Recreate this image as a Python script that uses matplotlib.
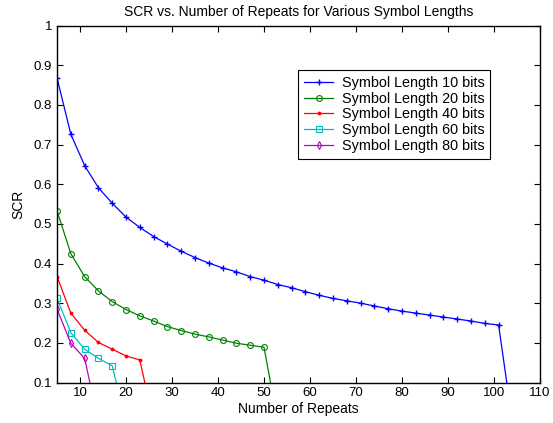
import matplotlib
matplotlib.use("Agg")
import matplotlib.pyplot as plt
import numpy as np

# SCR; each series ends with a 0 that drops below the axis
repeats_10 = list(range(5, 105, 3))
scr_10 = [0.868, 0.726, 0.647, 0.591, 0.552, 0.517, 0.491, 0.468, 0.449,
          0.431, 0.415, 0.401, 0.389, 0.379, 0.367, 0.358, 0.347, 0.339,
          0.329, 0.320, 0.312, 0.306, 0.300, 0.293, 0.286, 0.280, 0.275,
          0.270, 0.265, 0.260, 0.255, 0.249, 0.245, 0.0]

repeats_20 = list(range(5, 54, 3))
scr_20 = [0.533, 0.425, 0.367, 0.331, 0.304, 0.284, 0.268, 0.255, 0.241,
          0.231, 0.222, 0.215, 0.207, 0.199, 0.194, 0.189, 0.0]

repeats_40 = list(range(5, 27, 3))
scr_40 = [0.367, 0.275, 0.232, 0.201, 0.184, 0.167, 0.157, 0.0]

repeats_60 = list(range(5, 21, 3))
scr_60 = [0.312, 0.226, 0.184, 0.161, 0.142, 0.0]

repeats_80 = list(range(5, 15, 3))
scr_80 = [0.285, 0.199, 0.161, 0.0]

labels = ["Symbol Length 10 bits", "Symbol Length 20 bits",
          "Symbol Length 40 bits", "Symbol Length 60 bits",
          "Symbol Length 80 bits"]

plt.rcParams.update({
    "font.family": ["Liberation Sans", "DejaVu Sans"],
    "xtick.direction": "in", "ytick.direction": "in",
    "xtick.top": True, "ytick.right": True,
})

fig = plt.figure(figsize=(5.53, 4.23), dpi=100)
ax = fig.add_axes([0.1031, 0.0957, 0.8734, 0.844])

styles = [
    dict(color="#0000ff", marker="+", ms=5, mew=1.0),
    dict(color="#008000", marker="o", ms=4.2, mfc="none", mew=0.8),
    dict(color="#ff0000", marker=".", ms=3.5),
    dict(color="#00bfbf", marker="s", ms=3.8, mfc="none", mew=0.8),
    dict(color="#bf00bf", marker="d", ms=4, mfc="none", mew=0.8),
]
series = [(repeats_10, scr_10), (repeats_20, scr_20), (repeats_40, scr_40),
          (repeats_60, scr_60), (repeats_80, scr_80)]

for (x, y), st, lab in zip(series, styles, labels):
    ax.plot(x, y, lw=0.9, label=lab, **st)

ax.set_xlim(5, 110)
ax.set_ylim(0.1, 1.0)
ax.set_xticks(np.arange(10, 111, 10))
yt = np.round(np.arange(0.1, 1.01, 0.1), 1)
ax.set_yticks(yt, [f"{v:g}" for v in yt])
ax.tick_params(labelsize=9.5, length=4, width=0.8)
for s in ax.spines.values():
    s.set_linewidth(1.0)

ax.set_title("SCR vs. Number of Repeats for Various Symbol Lengths",
             fontsize=10, pad=7)
ax.set_xlabel("Number of Repeats", fontsize=10, labelpad=2)
ax.set_ylabel("SCR", fontsize=10, labelpad=6)

leg = ax.legend(loc="upper left", bbox_to_anchor=(0.4996, 0.875), fontsize=10.4,
                numpoints=1, fancybox=False, framealpha=1, edgecolor="black",
                borderpad=0.4, labelspacing=0.12, handlelength=2.0,
                handletextpad=0.6, borderaxespad=0)
leg.get_frame().set_linewidth(0.8)

fig.savefig("out.png", dpi=100)
